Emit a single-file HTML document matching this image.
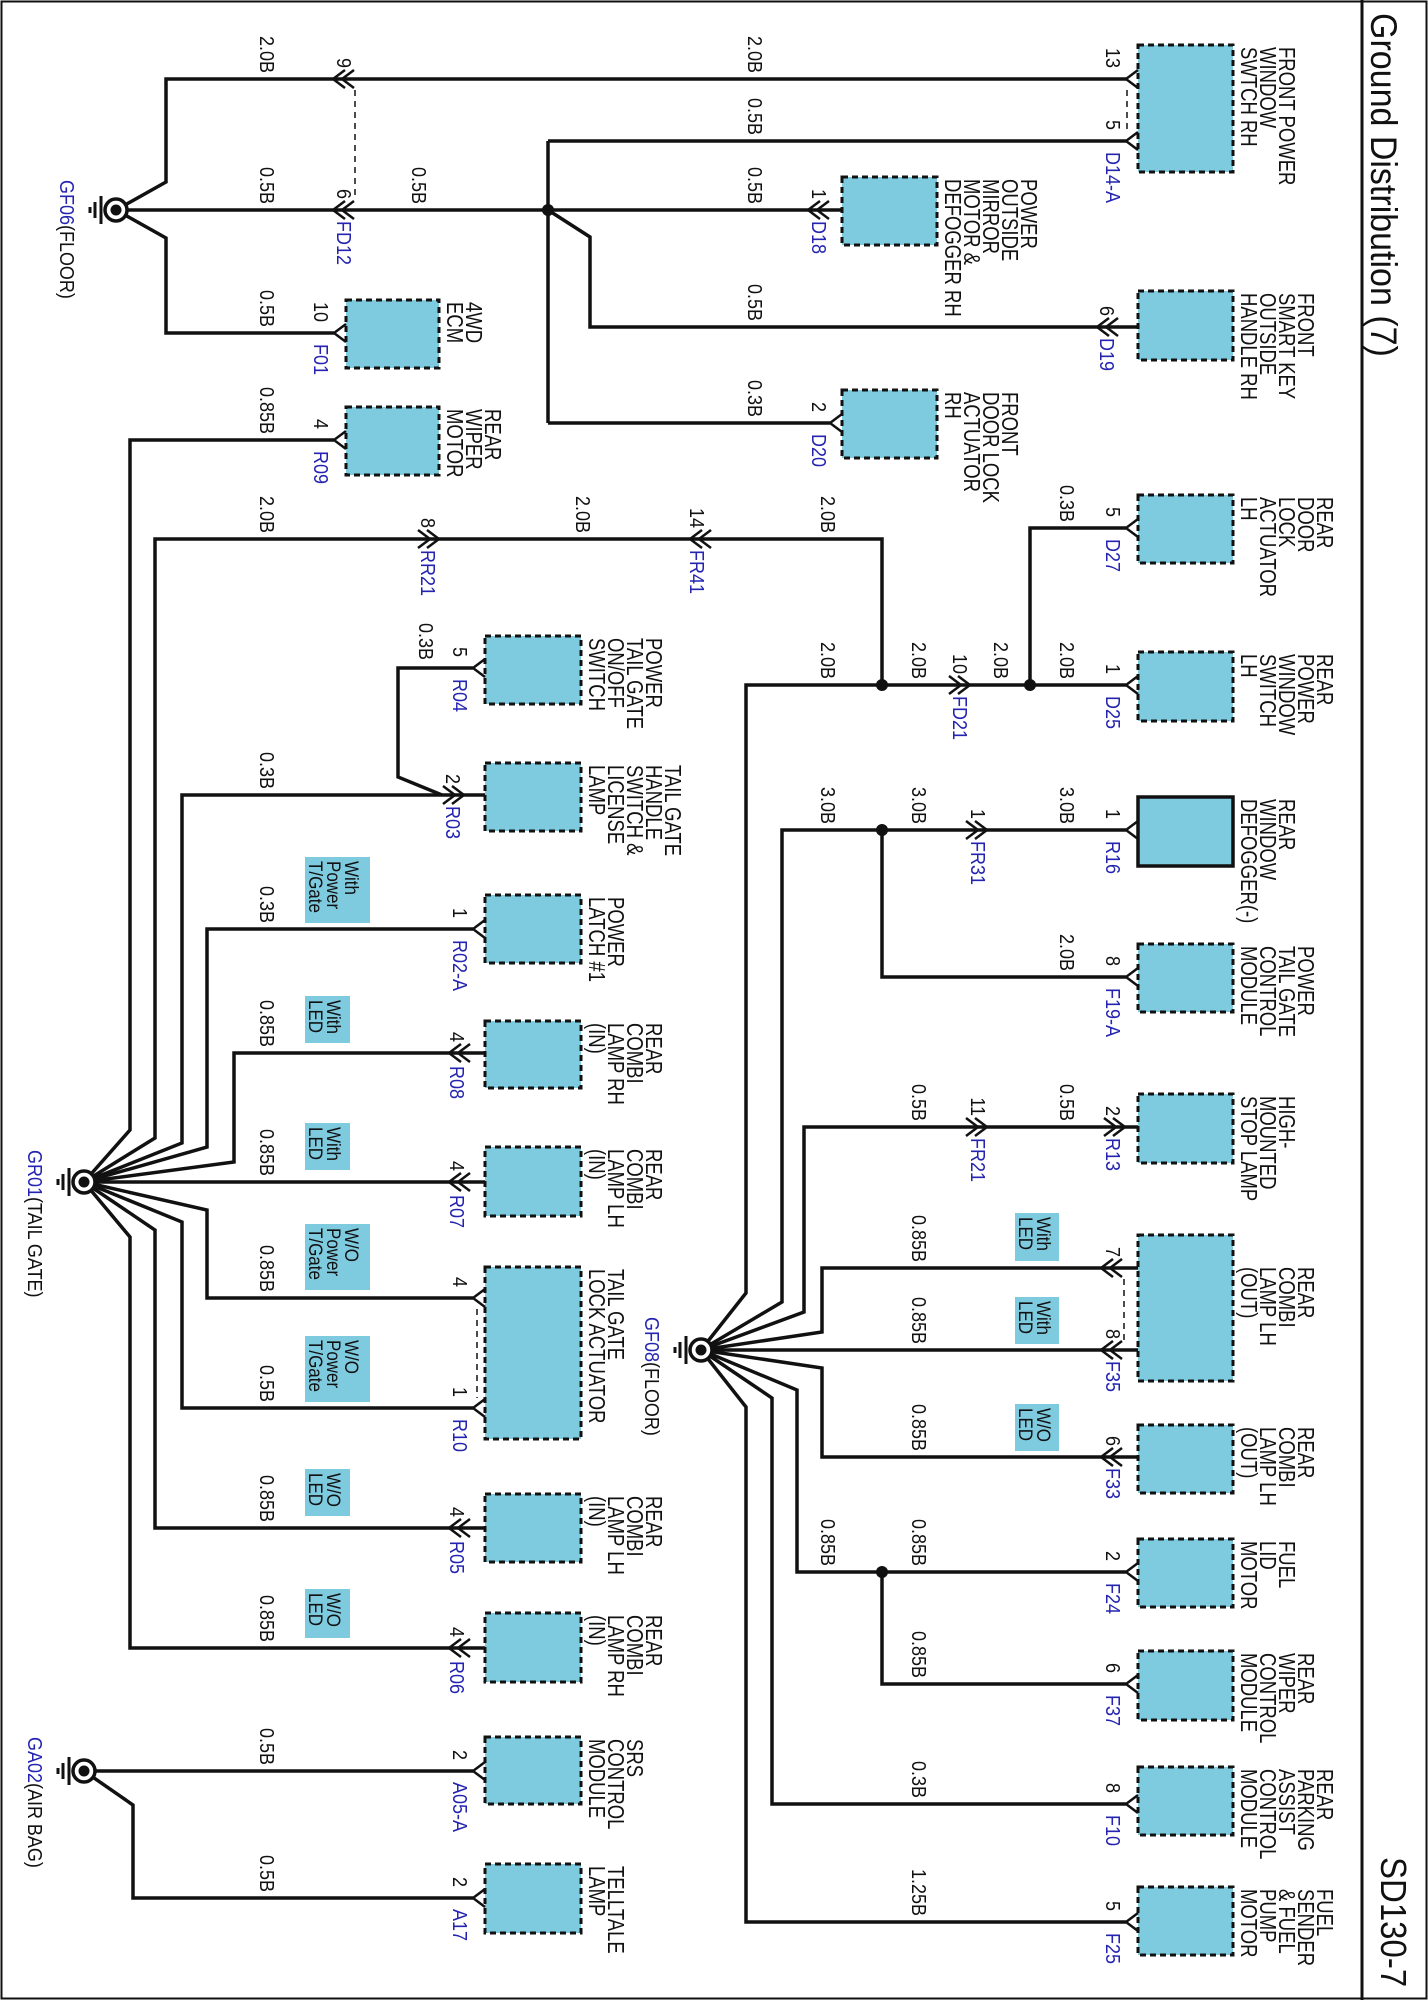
<!DOCTYPE html>
<html><head><meta charset="utf-8"><style>
html,body{margin:0;padding:0;background:#fff}
svg{display:block}
text{font-family:"Liberation Sans",sans-serif;fill:#111}
.w{font-size:18px}
.c{font-size:18.5px}
.o{font-size:17px}
.b{fill:#2424b0}
</style></head><body>
<svg width="1428" height="2000" viewBox="0 0 1428 2000" xmlns="http://www.w3.org/2000/svg">
<rect x="1.5" y="1.5" width="1425" height="1997" fill="#fff" stroke="#111" stroke-width="2"/>
<line x1="1362" y1="0" x2="1362" y2="2000" stroke="#111" stroke-width="3"/>

<g fill="#7ecbe0" stroke="#111" stroke-width="3" stroke-dasharray="6 4">
<rect x="1138" y="45" width="95" height="127"/>
<rect x="1138" y="291" width="95" height="69"/>
<rect x="1138" y="495" width="95" height="68"/>
<rect x="1138" y="652" width="95" height="69"/>
<rect x="1138" y="944" width="95" height="68"/>
<rect x="1138" y="1094" width="95" height="69"/>
<rect x="1138" y="1235" width="95" height="146"/>
<rect x="1138" y="1425" width="95" height="68"/>
<rect x="1138" y="1539" width="95" height="68"/>
<rect x="1138" y="1651" width="95" height="69"/>
<rect x="1138" y="1767" width="95" height="68"/>
<rect x="1138" y="1887" width="95" height="68"/>
<rect x="842" y="177" width="95" height="68"/>
<rect x="842" y="390" width="95" height="68"/>
<rect x="346" y="300" width="93" height="68"/>
<rect x="346" y="407" width="93" height="68"/>
<rect x="485" y="636" width="96" height="68"/>
<rect x="485" y="763" width="96" height="68"/>
<rect x="485" y="895" width="96" height="68"/>
<rect x="485" y="1021" width="96" height="67"/>
<rect x="485" y="1147" width="96" height="69"/>
<rect x="485" y="1267" width="96" height="172"/>
<rect x="485" y="1494" width="96" height="68"/>
<rect x="485" y="1613" width="96" height="69"/>
<rect x="485" y="1737" width="96" height="67"/>
<rect x="485" y="1864" width="96" height="69"/>
</g>
<rect x="1138" y="797" width="95" height="69" fill="#7ecbe0" stroke="#111" stroke-width="3.5"/>

<g fill="#7ecbe0">
<rect x="305" y="857" width="65" height="66"/>
<rect x="305" y="996" width="45" height="47"/>
<rect x="305" y="1123" width="45" height="47"/>
<rect x="305" y="1224" width="65" height="66"/>
<rect x="305" y="1336" width="65" height="66"/>
<rect x="305" y="1469" width="45" height="47"/>
<rect x="305" y="1589" width="45" height="49"/>
<rect x="1015" y="1213" width="44" height="48"/>
<rect x="1015" y="1297" width="44" height="47"/>
<rect x="1015" y="1404" width="44" height="47"/>
</g>

<g fill="none" stroke="#111" stroke-width="3.5" stroke-linejoin="miter">
<path d="M116,210 L166,182 L166,79 L1128,79"/>
<path d="M116,210 L842,210"/>
<path d="M116,210 L166,238 L166,333 L334,333"/>
<path d="M548,141 L548,423 M548,141 L1128,141 M548,423 L830,423"/>
<path d="M548,210 L590,237 L590,327 L1138,327"/>
<path d="M84,1182 L130,1130 L130,440 L334,440"/>
<path d="M84,1182 L155,1138 L155,539 L882,539 L882,685"/>
<path d="M84,1182 L182,1143 L182,795 L485,795"/>
<path d="M473,668 L398,668 L398,777 L442,795"/>
<path d="M84,1182 L207,1147 L207,929 L473,929"/>
<path d="M84,1182 L234,1162 L234,1053 L485,1053"/>
<path d="M84,1182 L485,1182"/>
<path d="M84,1182 L207,1210 L207,1298 L473,1298"/>
<path d="M84,1182 L182,1222 L182,1408 L473,1408"/>
<path d="M84,1182 L155,1230 L155,1528 L485,1528"/>
<path d="M84,1182 L130,1237 L130,1648 L485,1648"/>
<path d="M84,1771 L473,1771 M84,1771 L133,1805 L133,1898 L473,1898"/>
<path d="M701,1350 L746,1293 L746,685 L1126,685 M1030,685 L1030,528 L1126,528"/>
<path d="M701,1350 L782,1302 L782,830 L1126,830 M882,830 L882,977 L1126,977"/>
<path d="M701,1350 L804,1312 L804,1127 L1138,1127"/>
<path d="M701,1350 L822,1332 L822,1268 L1138,1268"/>
<path d="M701,1350 L1138,1350"/>
<path d="M701,1350 L822,1368 L822,1457 L1138,1457"/>
<path d="M701,1350 L797,1390 L797,1572 L1126,1572 M882,1572 L882,1684 L1126,1684"/>
<path d="M701,1350 L772,1398 L772,1804 L1126,1804"/>
<path d="M701,1350 L746,1407 L746,1922 L1126,1922"/>
</g>

<g fill="none" stroke="#111" stroke-width="2.5">
<path d="M1138,70L1126,79L1138,88 M1138,132L1126,141L1138,150 M1138,519L1126,528L1138,537 M1138,676L1126,685L1138,694 M1138,821L1126,830L1138,839 M1138,968L1126,977L1138,986 M1138,1563L1126,1572L1138,1581 M1138,1675L1126,1684L1138,1693 M1138,1795L1126,1804L1138,1813 M1138,1913L1126,1922L1138,1931"/>
<path d="M842,414L830,423L842,432 M346,324L334,333L346,342 M346,431L334,440L346,449"/>
<path d="M485,659L473,668L485,677 M485,920L473,929L485,938 M485,1289L473,1298L485,1307 M485,1399L473,1408L485,1417 M485,1762L473,1771L485,1780 M485,1889L473,1898L485,1907"/>
<path d="M345,70L333,79L345,88 M354,70L342,79L354,88 M345,201L333,210L345,219 M354,201L342,210L354,219"/>
<path d="M702,530L690,539L702,548 M711,530L699,539L711,548"/>
<path d="M820,201L808,210L820,219 M829,201L817,210L829,219"/>
<path d="M1109,318L1097,327L1109,336 M1118,318L1106,327L1118,336"/>
<path d="M461,1044L449,1053L461,1062 M470,1044L458,1053L470,1062 M461,1173L449,1182L461,1191 M470,1173L458,1182L470,1191 M461,1519L449,1528L461,1537 M470,1519L458,1528L470,1537 M461,1639L449,1648L461,1657 M470,1639L458,1648L470,1657"/>
<path d="M1113,1259L1101,1268L1113,1277 M1122,1259L1110,1268L1122,1277 M1113,1341L1101,1350L1113,1359 M1122,1341L1110,1350L1122,1359 M1113,1448L1101,1457L1113,1466 M1122,1448L1110,1457L1122,1466"/>
<path d="M418,530L430,539L418,548 M427,530L439,539L427,548"/>
<path d="M949,676L961,685L949,694 M958,676L970,685L958,694"/>
<path d="M966,821L978,830L966,839 M975,821L987,830L975,839"/>
<path d="M966,1118L978,1127L966,1136 M975,1118L987,1127L975,1136"/>
<path d="M1104,1118L1116,1127L1104,1136 M1113,1118L1125,1127L1113,1136"/>
<path d="M443,786L455,795L443,804 M452,786L464,795L452,804"/>
</g>
<g stroke="#111" stroke-width="1.5" stroke-dasharray="6 5">
<line x1="355" y1="90" x2="355" y2="200"/>
<line x1="1127" y1="90" x2="1127" y2="131"/>
<line x1="1124" y1="1279" x2="1124" y2="1340"/>
<line x1="477" y1="1309" x2="477" y2="1398"/>
</g>

<g fill="#111">
<circle cx="548" cy="210" r="6"/><circle cx="882" cy="685" r="6"/><circle cx="1030" cy="685" r="6"/><circle cx="882" cy="830" r="6"/><circle cx="882" cy="1572" r="6"/>
</g>

<g stroke="#111">
<g transform="translate(116,210)"><circle r="11" fill="#fff" stroke-width="3.5"/><circle r="5.5" fill="#111" stroke="none"/><line x1="-15" y1="-14" x2="-15" y2="14" stroke-width="3"/><line x1="-21" y1="-8" x2="-21" y2="8" stroke-width="3"/><line x1="-26" y1="-3" x2="-26" y2="3" stroke-width="3"/></g>
<g transform="translate(84,1182)"><circle r="11" fill="#fff" stroke-width="3.5"/><circle r="5.5" fill="#111" stroke="none"/><line x1="-15" y1="-14" x2="-15" y2="14" stroke-width="3"/><line x1="-21" y1="-8" x2="-21" y2="8" stroke-width="3"/><line x1="-26" y1="-3" x2="-26" y2="3" stroke-width="3"/></g>
<g transform="translate(84,1771)"><circle r="11" fill="#fff" stroke-width="3.5"/><circle r="5.5" fill="#111" stroke="none"/><line x1="-15" y1="-14" x2="-15" y2="14" stroke-width="3"/><line x1="-21" y1="-8" x2="-21" y2="8" stroke-width="3"/><line x1="-26" y1="-3" x2="-26" y2="3" stroke-width="3"/></g>
<g transform="translate(701,1350)"><circle r="11" fill="#fff" stroke-width="3.5"/><circle r="5.5" fill="#111" stroke="none"/><line x1="-15" y1="-14" x2="-15" y2="14" stroke-width="3"/><line x1="-21" y1="-8" x2="-21" y2="8" stroke-width="3"/><line x1="-26" y1="-3" x2="-26" y2="3" stroke-width="3"/></g>
</g>

<text style="font-size:34px" transform="translate(1371,13) rotate(90) scale(1,1.1)">Ground Distribution (7)</text>
<text style="font-size:33px" transform="translate(1381,1857) rotate(90) scale(1,1.1)">SD130-7</text>

<g class="w">
<text transform="translate(60,180) rotate(90) scale(1,1.15)"><tspan class="b">GF06</tspan>(FLOOR)</text>
<text transform="translate(28,1150) rotate(90) scale(1,1.15)"><tspan class="b">GR01</tspan>(TAIL GATE)</text>
<text transform="translate(28,1737) rotate(90) scale(1,1.15)"><tspan class="b">GA02</tspan>(AIR BAG)</text>
<text transform="translate(645,1317) rotate(90) scale(1,1.15)"><tspan class="b">GF08</tspan>(FLOOR)</text>
</g>

<g class="w" text-anchor="end">
<text transform="translate(260,73) rotate(90) scale(1,1.15)">2.0B</text>
<text transform="translate(748,73) rotate(90) scale(1,1.15)">2.0B</text>
<text transform="translate(748,135) rotate(90) scale(1,1.15)">0.5B</text>
<text transform="translate(260,204) rotate(90) scale(1,1.15)">0.5B</text>
<text transform="translate(412,204) rotate(90) scale(1,1.15)">0.5B</text>
<text transform="translate(748,204) rotate(90) scale(1,1.15)">0.5B</text>
<text transform="translate(260,327) rotate(90) scale(1,1.15)">0.5B</text>
<text transform="translate(748,321) rotate(90) scale(1,1.15)">0.5B</text>
<text transform="translate(748,417) rotate(90) scale(1,1.15)">0.3B</text>
<text transform="translate(260,434) rotate(90) scale(1,1.15)">0.85B</text>
<text transform="translate(260,533) rotate(90) scale(1,1.15)">2.0B</text>
<text transform="translate(576,533) rotate(90) scale(1,1.15)">2.0B</text>
<text transform="translate(821,533) rotate(90) scale(1,1.15)">2.0B</text>
<text transform="translate(1060,522) rotate(90) scale(1,1.15)">0.3B</text>
<text transform="translate(821,679) rotate(90) scale(1,1.15)">2.0B</text>
<text transform="translate(912,679) rotate(90) scale(1,1.15)">2.0B</text>
<text transform="translate(994,679) rotate(90) scale(1,1.15)">2.0B</text>
<text transform="translate(1060,679) rotate(90) scale(1,1.15)">2.0B</text>
<text transform="translate(419,660) rotate(90) scale(1,1.15)">0.3B</text>
<text transform="translate(260,789) rotate(90) scale(1,1.15)">0.3B</text>
<text transform="translate(821,824) rotate(90) scale(1,1.15)">3.0B</text>
<text transform="translate(912,824) rotate(90) scale(1,1.15)">3.0B</text>
<text transform="translate(1060,824) rotate(90) scale(1,1.15)">3.0B</text>
<text transform="translate(1060,971) rotate(90) scale(1,1.15)">2.0B</text>
<text transform="translate(260,923) rotate(90) scale(1,1.15)">0.3B</text>
<text transform="translate(260,1047) rotate(90) scale(1,1.15)">0.85B</text>
<text transform="translate(260,1176) rotate(90) scale(1,1.15)">0.85B</text>
<text transform="translate(260,1292) rotate(90) scale(1,1.15)">0.85B</text>
<text transform="translate(260,1402) rotate(90) scale(1,1.15)">0.5B</text>
<text transform="translate(260,1522) rotate(90) scale(1,1.15)">0.85B</text>
<text transform="translate(260,1642) rotate(90) scale(1,1.15)">0.85B</text>
<text transform="translate(260,1765) rotate(90) scale(1,1.15)">0.5B</text>
<text transform="translate(260,1892) rotate(90) scale(1,1.15)">0.5B</text>
<text transform="translate(912,1121) rotate(90) scale(1,1.15)">0.5B</text>
<text transform="translate(1060,1121) rotate(90) scale(1,1.15)">0.5B</text>
<text transform="translate(912,1262) rotate(90) scale(1,1.15)">0.85B</text>
<text transform="translate(912,1344) rotate(90) scale(1,1.15)">0.85B</text>
<text transform="translate(912,1451) rotate(90) scale(1,1.15)">0.85B</text>
<text transform="translate(821,1566) rotate(90) scale(1,1.15)">0.85B</text>
<text transform="translate(912,1566) rotate(90) scale(1,1.15)">0.85B</text>
<text transform="translate(912,1678) rotate(90) scale(1,1.15)">0.85B</text>
<text transform="translate(912,1798) rotate(90) scale(1,1.15)">0.3B</text>
<text transform="translate(912,1916) rotate(90) scale(1,1.15)">1.25B</text>
</g>

<g class="w" text-anchor="end">
<text transform="translate(1106,68) rotate(90) scale(1,1.15)">13</text>
<text transform="translate(1106,130) rotate(90) scale(1,1.15)">5</text>
<text transform="translate(337,68) rotate(90) scale(1,1.15)">9</text>
<text transform="translate(337,199) rotate(90) scale(1,1.15)">6</text>
<text transform="translate(812,199) rotate(90) scale(1,1.15)">1</text>
<text transform="translate(314,322) rotate(90) scale(1,1.15)">10</text>
<text transform="translate(1100,316) rotate(90) scale(1,1.15)">6</text>
<text transform="translate(812,412) rotate(90) scale(1,1.15)">2</text>
<text transform="translate(314,429) rotate(90) scale(1,1.15)">4</text>
<text transform="translate(421,528) rotate(90) scale(1,1.15)">8</text>
<text transform="translate(690,528) rotate(90) scale(1,1.15)">14</text>
<text transform="translate(1106,517) rotate(90) scale(1,1.15)">5</text>
<text transform="translate(1106,674) rotate(90) scale(1,1.15)">1</text>
<text transform="translate(953,674) rotate(90) scale(1,1.15)">10</text>
<text transform="translate(453,657) rotate(90) scale(1,1.15)">5</text>
<text transform="translate(446,784) rotate(90) scale(1,1.15)">2</text>
<text transform="translate(1106,819) rotate(90) scale(1,1.15)">1</text>
<text transform="translate(971,819) rotate(90) scale(1,1.15)">1</text>
<text transform="translate(1106,966) rotate(90) scale(1,1.15)">8</text>
<text transform="translate(453,918) rotate(90) scale(1,1.15)">1</text>
<text transform="translate(450,1042) rotate(90) scale(1,1.15)">4</text>
<text transform="translate(971,1116) rotate(90) scale(1,1.15)">11</text>
<text transform="translate(1106,1116) rotate(90) scale(1,1.15)">2</text>
<text transform="translate(450,1171) rotate(90) scale(1,1.15)">4</text>
<text transform="translate(1106,1257) rotate(90) scale(1,1.15)">7</text>
<text transform="translate(1106,1339) rotate(90) scale(1,1.15)">8</text>
<text transform="translate(453,1287) rotate(90) scale(1,1.15)">4</text>
<text transform="translate(453,1397) rotate(90) scale(1,1.15)">1</text>
<text transform="translate(1106,1446) rotate(90) scale(1,1.15)">6</text>
<text transform="translate(450,1517) rotate(90) scale(1,1.15)">4</text>
<text transform="translate(1106,1561) rotate(90) scale(1,1.15)">2</text>
<text transform="translate(450,1637) rotate(90) scale(1,1.15)">4</text>
<text transform="translate(1106,1673) rotate(90) scale(1,1.15)">6</text>
<text transform="translate(453,1760) rotate(90) scale(1,1.15)">2</text>
<text transform="translate(1106,1793) rotate(90) scale(1,1.15)">8</text>
<text transform="translate(453,1887) rotate(90) scale(1,1.15)">2</text>
<text transform="translate(1106,1911) rotate(90) scale(1,1.15)">5</text>
</g>

<g class="w">
<text class="b" transform="translate(1106,152) rotate(90) scale(1,1.15)">D14-A</text>
<text class="b" transform="translate(337,221) rotate(90) scale(1,1.15)">FD12</text>
<text class="b" transform="translate(812,221) rotate(90) scale(1,1.15)">D18</text>
<text class="b" transform="translate(314,344) rotate(90) scale(1,1.15)">F01</text>
<text class="b" transform="translate(1100,338) rotate(90) scale(1,1.15)">D19</text>
<text class="b" transform="translate(812,434) rotate(90) scale(1,1.15)">D20</text>
<text class="b" transform="translate(314,451) rotate(90) scale(1,1.15)">R09</text>
<text class="b" transform="translate(421,550) rotate(90) scale(1,1.15)">RR21</text>
<text class="b" transform="translate(690,550) rotate(90) scale(1,1.15)">FR41</text>
<text class="b" transform="translate(1106,539) rotate(90) scale(1,1.15)">D27</text>
<text class="b" transform="translate(1106,696) rotate(90) scale(1,1.15)">D25</text>
<text class="b" transform="translate(953,696) rotate(90) scale(1,1.15)">FD21</text>
<text class="b" transform="translate(453,679) rotate(90) scale(1,1.15)">R04</text>
<text class="b" transform="translate(446,806) rotate(90) scale(1,1.15)">R03</text>
<text class="b" transform="translate(1106,841) rotate(90) scale(1,1.15)">R16</text>
<text class="b" transform="translate(971,841) rotate(90) scale(1,1.15)">FR31</text>
<text class="b" transform="translate(1106,988) rotate(90) scale(1,1.15)">F19-A</text>
<text class="b" transform="translate(453,940) rotate(90) scale(1,1.15)">R02-A</text>
<text class="b" transform="translate(450,1066) rotate(90) scale(1,1.15)">R08</text>
<text class="b" transform="translate(971,1138) rotate(90) scale(1,1.15)">FR21</text>
<text class="b" transform="translate(1106,1138) rotate(90) scale(1,1.15)">R13</text>
<text class="b" transform="translate(450,1195) rotate(90) scale(1,1.15)">R07</text>
<text class="b" transform="translate(1106,1361) rotate(90) scale(1,1.15)">F35</text>
<text class="b" transform="translate(453,1419) rotate(90) scale(1,1.15)">R10</text>
<text class="b" transform="translate(1106,1468) rotate(90) scale(1,1.15)">F33</text>
<text class="b" transform="translate(450,1541) rotate(90) scale(1,1.15)">R05</text>
<text class="b" transform="translate(1106,1583) rotate(90) scale(1,1.15)">F24</text>
<text class="b" transform="translate(450,1661) rotate(90) scale(1,1.15)">R06</text>
<text class="b" transform="translate(1106,1695) rotate(90) scale(1,1.15)">F37</text>
<text class="b" transform="translate(453,1782) rotate(90) scale(1,1.15)">A05-A</text>
<text class="b" transform="translate(1106,1815) rotate(90) scale(1,1.15)">F10</text>
<text class="b" transform="translate(453,1909) rotate(90) scale(1,1.15)">A17</text>
<text class="b" transform="translate(1106,1933) rotate(90) scale(1,1.15)">F25</text>
</g>

<g class="c">
<text transform="translate(1279,47) rotate(90) scale(1,1.25)"><tspan x="0">FRONT POWER</tspan><tspan x="0" dy="15.2">WINDOW</tspan><tspan x="0" dy="15.2">SWTCH RH</tspan></text>
<text transform="translate(1298,293) rotate(90) scale(1,1.25)"><tspan x="0">FRONT</tspan><tspan x="0" dy="15.2">SMART KEY</tspan><tspan x="0" dy="15.2">OUTSIDE</tspan><tspan x="0" dy="15.2">HANDLE RH</tspan></text>
<text transform="translate(1317,497) rotate(90) scale(1,1.25)"><tspan x="0">REAR</tspan><tspan x="0" dy="15.2">DOOR</tspan><tspan x="0" dy="15.2">LOCK</tspan><tspan x="0" dy="15.2">ACTUATOR</tspan><tspan x="0" dy="15.2">LH</tspan></text>
<text transform="translate(1317,654) rotate(90) scale(1,1.25)"><tspan x="0">REAR</tspan><tspan x="0" dy="15.2">POWER</tspan><tspan x="0" dy="15.2">WINDOW</tspan><tspan x="0" dy="15.2">SWITCH</tspan><tspan x="0" dy="15.2">LH</tspan></text>
<text transform="translate(1279,799) rotate(90) scale(1,1.25)"><tspan x="0">REAR</tspan><tspan x="0" dy="15.2">WINDOW</tspan><tspan x="0" dy="15.2">DEFOGGER(-)</tspan></text>
<text transform="translate(1298,946) rotate(90) scale(1,1.25)"><tspan x="0">POWER</tspan><tspan x="0" dy="15.2">TAIL GATE</tspan><tspan x="0" dy="15.2">CONTROL</tspan><tspan x="0" dy="15.2">MODULE</tspan></text>
<text transform="translate(1279,1096) rotate(90) scale(1,1.25)"><tspan x="0">HIGH-</tspan><tspan x="0" dy="15.2">MOUNTED</tspan><tspan x="0" dy="15.2">STOP LAMP</tspan></text>
<text transform="translate(1298,1267) rotate(90) scale(1,1.25)"><tspan x="0">REAR</tspan><tspan x="0" dy="15.2">COMBI</tspan><tspan x="0" dy="15.2">LAMP LH</tspan><tspan x="0" dy="15.2">(OUT)</tspan></text>
<text transform="translate(1298,1427) rotate(90) scale(1,1.25)"><tspan x="0">REAR</tspan><tspan x="0" dy="15.2">COMBI</tspan><tspan x="0" dy="15.2">LAMP LH</tspan><tspan x="0" dy="15.2">(OUT)</tspan></text>
<text transform="translate(1279,1541) rotate(90) scale(1,1.25)"><tspan x="0">FUEL</tspan><tspan x="0" dy="15.2">LID</tspan><tspan x="0" dy="15.2">MOTOR</tspan></text>
<text transform="translate(1298,1653) rotate(90) scale(1,1.25)"><tspan x="0">REAR</tspan><tspan x="0" dy="15.2">WIPER</tspan><tspan x="0" dy="15.2">CONTROL</tspan><tspan x="0" dy="15.2">MODULE</tspan></text>
<text transform="translate(1317,1769) rotate(90) scale(1,1.25)"><tspan x="0">REAR</tspan><tspan x="0" dy="15.2">PARKING</tspan><tspan x="0" dy="15.2">ASSIST</tspan><tspan x="0" dy="15.2">CONTROL</tspan><tspan x="0" dy="15.2">MODULE</tspan></text>
<text transform="translate(1317,1889) rotate(90) scale(1,1.25)"><tspan x="0">FUEL</tspan><tspan x="0" dy="15.2">SENDER</tspan><tspan x="0" dy="15.2">&amp; FUEL</tspan><tspan x="0" dy="15.2">PUMP</tspan><tspan x="0" dy="15.2">MOTOR</tspan></text>
<text transform="translate(1021,179) rotate(90) scale(1,1.25)"><tspan x="0">POWER</tspan><tspan x="0" dy="15.2">OUTSIDE</tspan><tspan x="0" dy="15.2">MIRROR</tspan><tspan x="0" dy="15.2">MOTOR &amp;</tspan><tspan x="0" dy="15.2">DEFOGGER RH</tspan></text>
<text transform="translate(1002,392) rotate(90) scale(1,1.25)"><tspan x="0">FRONT</tspan><tspan x="0" dy="15.2">DOOR LOCK</tspan><tspan x="0" dy="15.2">ACTUATOR</tspan><tspan x="0" dy="15.2">RH</tspan></text>
<text transform="translate(466,302) rotate(90) scale(1,1.25)"><tspan x="0">4WD</tspan><tspan x="0" dy="15.2">ECM</tspan></text>
<text transform="translate(485,409) rotate(90) scale(1,1.25)"><tspan x="0">REAR</tspan><tspan x="0" dy="15.2">WIPER</tspan><tspan x="0" dy="15.2">MOTOR</tspan></text>
<text transform="translate(646,638) rotate(90) scale(1,1.25)"><tspan x="0">POWER</tspan><tspan x="0" dy="15.2">TAIL GATE</tspan><tspan x="0" dy="15.2">ON/OFF</tspan><tspan x="0" dy="15.2">SWITCH</tspan></text>
<text transform="translate(665,765) rotate(90) scale(1,1.25)"><tspan x="0">TAIL GATE</tspan><tspan x="0" dy="15.2">HANDLE</tspan><tspan x="0" dy="15.2">SWITCH &amp;</tspan><tspan x="0" dy="15.2">LICENSE</tspan><tspan x="0" dy="15.2">LAMP</tspan></text>
<text transform="translate(608,897) rotate(90) scale(1,1.25)"><tspan x="0">POWER</tspan><tspan x="0" dy="15.2">LATCH #1</tspan></text>
<text transform="translate(646,1023) rotate(90) scale(1,1.25)"><tspan x="0">REAR</tspan><tspan x="0" dy="15.2">COMBI</tspan><tspan x="0" dy="15.2">LAMP RH</tspan><tspan x="0" dy="15.2">(IN)</tspan></text>
<text transform="translate(646,1149) rotate(90) scale(1,1.25)"><tspan x="0">REAR</tspan><tspan x="0" dy="15.2">COMBI</tspan><tspan x="0" dy="15.2">LAMP LH</tspan><tspan x="0" dy="15.2">(IN)</tspan></text>
<text transform="translate(608,1269) rotate(90) scale(1,1.25)"><tspan x="0">TAIL GATE</tspan><tspan x="0" dy="15.2">LOCK ACTUATOR</tspan></text>
<text transform="translate(646,1496) rotate(90) scale(1,1.25)"><tspan x="0">REAR</tspan><tspan x="0" dy="15.2">COMBI</tspan><tspan x="0" dy="15.2">LAMP LH</tspan><tspan x="0" dy="15.2">(IN)</tspan></text>
<text transform="translate(646,1615) rotate(90) scale(1,1.25)"><tspan x="0">REAR</tspan><tspan x="0" dy="15.2">COMBI</tspan><tspan x="0" dy="15.2">LAMP RH</tspan><tspan x="0" dy="15.2">(IN)</tspan></text>
<text transform="translate(627,1739) rotate(90) scale(1,1.25)"><tspan x="0">SRS</tspan><tspan x="0" dy="15.2">CONTROL</tspan><tspan x="0" dy="15.2">MODULE</tspan></text>
<text transform="translate(608,1866) rotate(90) scale(1,1.25)"><tspan x="0">TELLTALE</tspan><tspan x="0" dy="15.2">LAMP</tspan></text>
</g>

<g class="o">
<text transform="translate(345,861) rotate(90) scale(1,1.15)"><tspan x="0">With</tspan><tspan x="0" dy="15.6">Power</tspan><tspan x="0" dy="15.6">T/Gate</tspan></text>
<text transform="translate(327,1000) rotate(90) scale(1,1.15)"><tspan x="0">With</tspan><tspan x="0" dy="15.6">LED</tspan></text>
<text transform="translate(327,1127) rotate(90) scale(1,1.15)"><tspan x="0">With</tspan><tspan x="0" dy="15.6">LED</tspan></text>
<text transform="translate(345,1228) rotate(90) scale(1,1.15)"><tspan x="0">W/O</tspan><tspan x="0" dy="15.6">Power</tspan><tspan x="0" dy="15.6">T/Gate</tspan></text>
<text transform="translate(345,1340) rotate(90) scale(1,1.15)"><tspan x="0">W/O</tspan><tspan x="0" dy="15.6">Power</tspan><tspan x="0" dy="15.6">T/Gate</tspan></text>
<text transform="translate(327,1473) rotate(90) scale(1,1.15)"><tspan x="0">W/O</tspan><tspan x="0" dy="15.6">LED</tspan></text>
<text transform="translate(327,1593) rotate(90) scale(1,1.15)"><tspan x="0">W/O</tspan><tspan x="0" dy="15.6">LED</tspan></text>
<text transform="translate(1037,1217) rotate(90) scale(1,1.15)"><tspan x="0">With</tspan><tspan x="0" dy="15.6">LED</tspan></text>
<text transform="translate(1037,1301) rotate(90) scale(1,1.15)"><tspan x="0">With</tspan><tspan x="0" dy="15.6">LED</tspan></text>
<text transform="translate(1037,1408) rotate(90) scale(1,1.15)"><tspan x="0">W/O</tspan><tspan x="0" dy="15.6">LED</tspan></text>
</g>
</svg>
</body></html>
